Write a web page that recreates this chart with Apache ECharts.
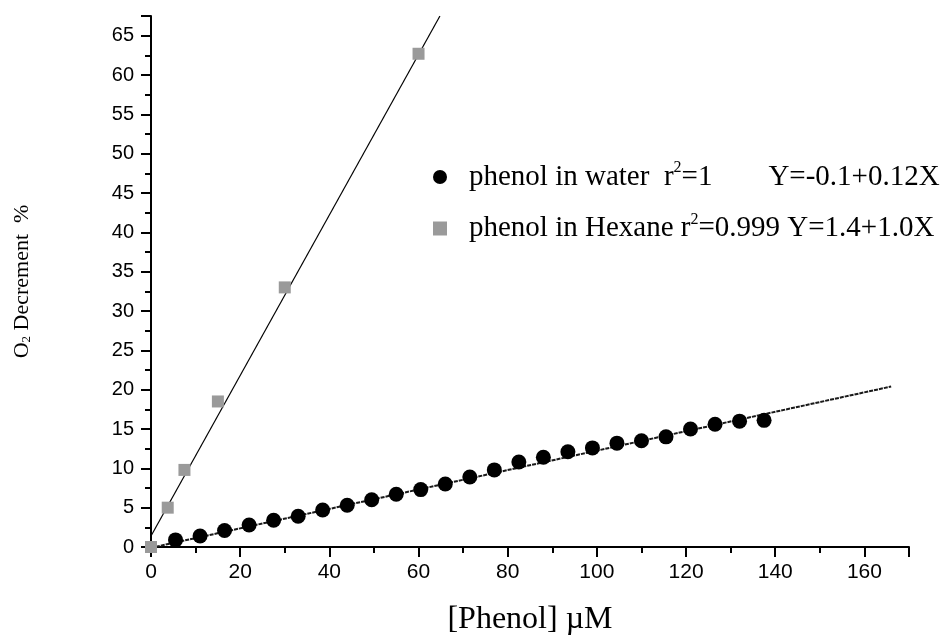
<!DOCTYPE html>
<html>
<head>
<meta charset="utf-8">
<script src="https://cdn.jsdelivr.net/npm/echarts@6/dist/echarts.min.js"></script>
<style>html,body{margin:0;padding:0;background:#fff}#c{width:951px;height:636px}</style>
</head>
<body>
<div id="c"></div>
<script>
// Data
var hexaneX = [0, 3.75, 7.5, 15, 30, 60];
var hexaneY = [0, 5.0, 9.8, 18.5, 33.0, 62.7];
var waterX = [5.5, 11, 16.5, 22, 27.5, 33, 38.5, 44, 49.5, 55, 60.5, 66, 71.5, 77, 82.5, 88, 93.5, 99, 104.5, 110, 115.5, 121, 126.5, 132, 137.5];
var waterY = [0.9, 1.4, 2.1, 2.8, 3.4, 3.9, 4.7, 5.3, 6.0, 6.7, 7.3, 8.0, 8.9, 9.8, 10.8, 11.4, 12.1, 12.6, 13.2, 13.5, 14.0, 15.0, 15.6, 16.0, 16.1];
var hexaneFitX = [0, 64.8];
var hexaneFitY = [1.4, 67.5];
var waterFitX = [0, 166];
var waterFitY = [-0.1, 20.4];
var xTicks = [0, 20, 40, 60, 80, 100, 120, 140, 160];
var yTicks = [0, 5, 10, 15, 20, 25, 30, 35, 40, 45, 50, 55, 60, 65];

function pairs(xs, ys) { return xs.map(function (x, i) { return [x, ys[i]]; }); }

var serif = 'Liberation Serif, Times New Roman, serif';
var sans = 'Liberation Sans, Arial, sans-serif';
var chart = echarts.init(document.getElementById('c'), null, {renderer: 'canvas'});
var richBase = {
  t: {fontFamily: serif, fontSize: 29, color: '#000', lineHeight: 34},
  s: {fontFamily: serif, fontSize: 16, color: '#000', verticalAlign: 'top', lineHeight: 34, padding: [0, 0, 12, 0]},
  g: {fontFamily: serif, fontSize: 29, width: 56}
};
chart.setOption({
  animation: false,
  backgroundColor: '#fff',
  grid: {left: 151, right: 42, top: 16, bottom: 89, containLabel: false, outerBoundsMode: 'none'},
  legend: {
    orient: 'vertical', left: 428, top: 155, itemGap: 20, itemWidth: 14, itemHeight: 14,
    data: [{name: 'water', icon: 'circle'}, {name: 'hexane', icon: 'rect'}],
    formatter: function (n) {
      if (n === 'water') return '{t|phenol in water  r}{s|2}{t|=1}{g| }{t|Y=-0.1+0.12X}';
      return '{t|phenol in Hexane r}{s|2}{t|=0.999 Y=1.4+1.0X}';
    },
    textStyle: {rich: richBase, padding: [0, 0, 0, 17]}
  },
  xAxis: {
    type: 'value', min: 0, max: 170, interval: 20,
    name: '[Phenol] \u00b5M', nameLocation: 'middle', nameGap: 57,
    nameTextStyle: {fontFamily: serif, fontSize: 32, color: '#000'},
    axisLine: {lineStyle: {color: '#000', width: 2}},
    axisTick: {show: true, length: 10, lineStyle: {color: '#000', width: 2}},
    minorTick: {show: true, splitNumber: 2, length: 6, lineStyle: {color: '#000', width: 2}},
    splitLine: {show: false},
    axisLabel: {
      fontFamily: sans, fontSize: 21, color: '#000', margin: 15,
      showMaxLabel: false,
      formatter: function (v) { return xTicks.indexOf(v) >= 0 ? String(v) : ''; }
    }
  },
  yAxis: {
    type: 'value', min: 0, max: 67.5, interval: 5,
    name: '{o|O}{sub|2}{o| Decrement  %}', nameLocation: 'middle', nameGap: 118, nameRotate: 90,
    nameTextStyle: {rich: {
      o: {fontFamily: serif, fontSize: 22, color: '#000'},
      sub: {fontFamily: serif, fontSize: 13, color: '#000', verticalAlign: 'bottom', padding: [9, 0, 0, 0]}
    }},
    axisLine: {lineStyle: {color: '#000', width: 2}},
    axisTick: {show: true, length: 10, lineStyle: {color: '#000', width: 2}},
    minorTick: {show: true, splitNumber: 2, length: 6, lineStyle: {color: '#000', width: 2}},
    splitLine: {show: false},
    axisLabel: {
      fontFamily: sans, fontSize: 20, color: '#000', margin: 17,
      showMaxLabel: false,
      formatter: function (v) { return yTicks.indexOf(v) >= 0 ? String(v) : ''; }
    }
  },
  series: [
    {name: 'hexaneFit', type: 'line', data: pairs(hexaneFitX, hexaneFitY), symbol: 'none',
     lineStyle: {color: '#000', width: 1.2}, z: 2, silent: true},
    {name: 'waterFit', type: 'line', data: pairs(waterFitX, waterFitY), symbol: 'none',
     lineStyle: {color: '#1a1a1a', width: 2, type: [4, 1]}, z: 2, silent: true},
    {name: 'water', type: 'scatter', data: pairs(waterX, waterY), symbol: 'circle', symbolSize: 15,
     itemStyle: {color: '#000', opacity: 1}, z: 3},
    {name: 'hexane', type: 'scatter', data: pairs(hexaneX, hexaneY), symbol: 'rect', symbolSize: 12,
     itemStyle: {color: '#9a9a9a', opacity: 1}, z: 4}
  ]
});
</script>
</body>
</html>
